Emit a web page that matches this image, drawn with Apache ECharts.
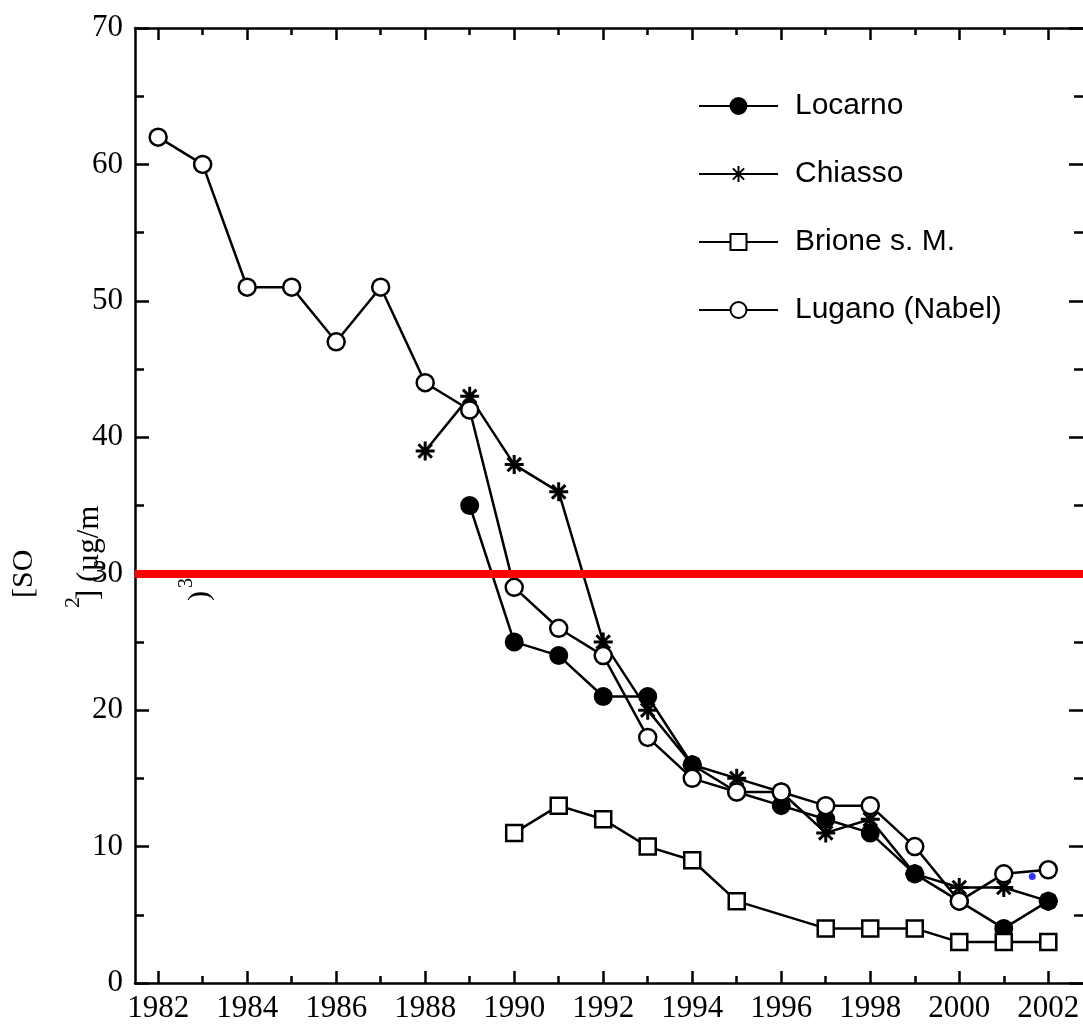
<!DOCTYPE html>
<html>
<head>
<meta charset="utf-8">
<script src="https://cdn.jsdelivr.net/npm/echarts@6/dist/echarts.min.js"></script>
<style>
  html, body { margin: 0; padding: 0; background: #fff; }
  #chartBox { width: 1083px; height: 1024px; }
</style>
</head>
<body>
<div id="chartBox"></div>
<script>
// valori
var locarnoYears = [1989, 1990, 1991, 1992, 1993, 1994, 1995, 1996, 1997, 1998, 1999, 2000, 2001, 2002]
var locarnoValues = [35, 25, 24, 21, 21, 16, 14, 13, 12, 11, 8, 6, 4, 6]

var chiassoYears = [1988, 1989, 1990, 1991, 1992, 1993, 1994, 1995, 1996, 1997, 1998, 1999, 2000, 2001, 2002]
var chiassoValues = [39, 43, 38, 36, 25, 20, 16, 15, 14, 11, 12, 8, 7, 7, 6]

var brioneYears = [1990, 1991, 1992, 1993, 1994, 1995, 1997, 1998, 1999, 2000, 2001, 2002]
var brioneValues = [11, 13, 12, 10, 9, 6, 4, 4, 4, 3, 3, 3]

var luganoYears = [1982, 1983, 1984, 1985, 1986, 1987, 1988, 1989, 1990, 1991, 1992, 1993, 1994, 1995, 1996, 1997, 1998, 1999, 2000, 2001, 2002]
var luganoValues = [62, 60, 51, 51, 47, 51, 44, 42, 29, 26, 24, 18, 15, 14, 14, 13, 13, 10, 6, 8, 8.3]

var limitValue = 30
var bluePoint = [2001.64, 7.8]

var majorYears = [1982, 1984, 1986, 1988, 1990, 1992, 1994, 1996, 1998, 2000, 2002]
var minorYears = [1983, 1985, 1987, 1989, 1991, 1993, 1995, 1997, 1999, 2001]

function pairs(years, values) {
  return years.map(function (y, i) { return [y, values[i]] })
}

var starPath = 'path://M0,-10L0,10M-10,0L10,0M-7.07,-7.07L7.07,7.07M-7.07,7.07L7.07,-7.07'
var serif = 'Liberation Serif'

var myChart = echarts.init(document.getElementById('chartBox'))

var xMin = 1981.48
var xMax = 2002.78

function xAxisDef(pos, values, len, withLabel, withLine) {
  return {
    type: 'value',
    position: pos,
    min: xMin,
    max: xMax,
    axisLine: { show: withLine, lineStyle: { color: '#000', width: 2.5 } },
    axisTick: { show: true, inside: true, length: len, customValues: values, lineStyle: { color: '#000', width: 2.5 } },
    axisLabel: {
      show: withLabel,
      customValues: values,
      margin: 10,
      color: '#000',
      fontFamily: serif,
      fontSize: 31,
      formatter: function (v) { return String(Math.round(v)) }
    },
    splitLine: { show: false }
  }
}

function yAxisDef(pos, withLabel, withLine) {
  return {
    type: 'value',
    position: pos,
    min: 0,
    max: 70,
    interval: 10,
    axisLine: { show: withLine, lineStyle: { color: '#000', width: 2.5 } },
    axisTick: { show: true, inside: true, length: 14, lineStyle: { color: '#000', width: 2.5 } },
    minorTick: { show: true, splitNumber: 2, length: 9, lineStyle: { color: '#000', width: 2.5 } },
    axisLabel: { show: withLabel, margin: 12, color: '#000', fontFamily: serif, fontSize: 31 },
    splitLine: { show: false }
  }
}

myChart.setOption({
  animation: false,
  backgroundColor: '#fff',
  grid: { left: 135, top: 28, bottom: 40, right: 0 },
  xAxis: [
    xAxisDef('bottom', majorYears, 12, true, true),
    xAxisDef('bottom', minorYears, 7, false, false),
    xAxisDef('top', majorYears, 12, false, true),
    xAxisDef('top', minorYears, 7, false, false)
  ],
  // l'asse destro esce dall'immagine: solo le tacche
  yAxis: [yAxisDef('left', true, true), yAxisDef('right', false, false)],
  legend: {
    orient: 'vertical',
    left: 698,
    top: 91,
    padding: 0,
    itemWidth: 79,
    itemHeight: 20,
    itemGap: 38,
    textStyle: { fontFamily: 'Liberation Sans', fontSize: 30, color: '#000', padding: [0, 0, 0, 12] },
    data: ['Locarno', 'Chiasso', 'Brione s. M.', 'Lugano (Nabel)']
  },
  graphic: [
    { type: 'text', x: 24, y: 598, rotation: Math.PI / 2, style: { text: '[SO', font: '30px "Liberation Serif"', fill: '#000', align: 'left', verticalAlign: 'middle' } },
    { type: 'text', x: 73, y: 608, rotation: Math.PI / 2, style: { text: '2', font: '22px "Liberation Serif"', fill: '#000', align: 'left', verticalAlign: 'middle' } },
    { type: 'text', x: 90, y: 600, rotation: Math.PI / 2, style: { text: '] (µg/m', font: '31px "Liberation Serif"', fill: '#000', align: 'left', verticalAlign: 'middle' } },
    { type: 'text', x: 187, y: 588, rotation: Math.PI / 2, style: { text: '3', font: '20px "Liberation Serif"', fill: '#000', align: 'left', verticalAlign: 'middle' } },
    { type: 'text', x: 200, y: 601, rotation: Math.PI / 2, style: { text: ')', font: '30px "Liberation Serif"', fill: '#000', align: 'left', verticalAlign: 'middle' } }
  ],
  series: [
    {
      name: 'Locarno',
      type: 'line',
      data: pairs(locarnoYears, locarnoValues),
      symbol: 'circle',
      symbolSize: 17,
      lineStyle: { color: '#000', width: 2.5 },
      itemStyle: { color: '#000', borderColor: '#000', borderWidth: 2 }
    },
    {
      name: 'Chiasso',
      type: 'line',
      data: pairs(chiassoYears, chiassoValues),
      symbol: starPath,
      symbolSize: 19,
      lineStyle: { color: '#000', width: 2.5 },
      itemStyle: { color: 'transparent', borderColor: '#000', borderWidth: 3 }
    },
    {
      name: 'Brione s. M.',
      type: 'line',
      data: pairs(brioneYears, brioneValues),
      symbol: 'rect',
      symbolSize: 16,
      lineStyle: { color: '#000', width: 2.5 },
      itemStyle: { color: '#fff', borderColor: '#000', borderWidth: 2.5 }
    },
    {
      name: 'Lugano (Nabel)',
      type: 'line',
      data: pairs(luganoYears, luganoValues),
      symbol: 'circle',
      symbolSize: 17,
      lineStyle: { color: '#000', width: 2.5 },
      itemStyle: { color: '#fff', borderColor: '#000', borderWidth: 2.5 }
    },
    {
      name: 'dot',
      type: 'scatter',
      data: [bluePoint],
      symbolSize: 7,
      itemStyle: { color: '#0000ff' },
      z: 5
    },
    {
      name: 'limite',
      type: 'line',
      data: [],
      z: 10,
      markLine: {
        silent: true,
        symbol: 'none',
        label: { show: false },
        lineStyle: { color: '#ff0000', width: 8, type: 'solid' },
        data: [{ yAxis: limitValue }]
      }
    }
  ]
})
</script>
</body>
</html>
